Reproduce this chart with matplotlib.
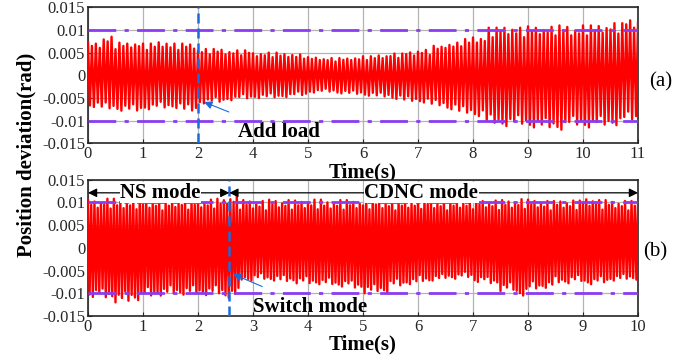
import numpy as np
import matplotlib.pyplot as plt

plt.rcParams['font.family'] = ['Liberation Serif', 'DejaVu Serif']

# peak envelope of the position deviation, one value per 0.25 axis unit
seg = 0.25
a_upper = [0.0072, 0.0085, 0.0072, 0.0073, 0.0070, 0.0075, 0.0070, 0.0070,
           0.0058, 0.0058, 0.0055, 0.0055, 0.0050, 0.0050, 0.0048, 0.0046,
           0.0040, 0.0038, 0.0038, 0.0040, 0.0042, 0.0045, 0.0048, 0.0052,
           0.0056, 0.0065, 0.0072, 0.0080, 0.0086, 0.0105, 0.0108, 0.0105,
           0.0108, 0.0107, 0.0110, 0.0105, 0.0110, 0.0112, 0.0115, 0.0125]
a_lower = [-0.0070, -0.0075, -0.0078, -0.0080, -0.0075, -0.0073, -0.0072, -0.0080,
           -0.0062, -0.0060, -0.0055, -0.0052, -0.0050, -0.0050, -0.0048, -0.0045,
           -0.0038, -0.0037, -0.0040, -0.0042, -0.0045, -0.0048, -0.0052, -0.0058,
           -0.0060, -0.0068, -0.0075, -0.0085, -0.0090, -0.0108, -0.0112, -0.0110,
           -0.0115, -0.0118, -0.0120, -0.0112, -0.0115, -0.0112, -0.0110, -0.0100]
b_upper = [0.0105, 0.0108, 0.0104, 0.0106, 0.0105, 0.0103, 0.0107, 0.0105, 0.0106, 0.0108,
           0.0115, 0.0105, 0.0103, 0.0106, 0.0105, 0.0104, 0.0106, 0.0103, 0.0105, 0.0104,
           0.0106, 0.0104, 0.0103, 0.0105, 0.0107, 0.0104, 0.0103, 0.0105, 0.0106, 0.0104,
           0.0105, 0.0107, 0.0106, 0.0103, 0.0105, 0.0104, 0.0110, 0.0105, 0.0104, 0.0103]
b_lower = [-0.0108, -0.0112, -0.0120, -0.0115, -0.0108, -0.0105, -0.0103, -0.0103, -0.0104, -0.0103,
           -0.0110, -0.0072, -0.0070, -0.0072, -0.0075, -0.0078, -0.0080, -0.0082, -0.0085, -0.0090,
           -0.0100, -0.0098, -0.0085, -0.0080, -0.0075, -0.0072, -0.0068, -0.0066, -0.0075, -0.0080,
           -0.0095, -0.0105, -0.0092, -0.0088, -0.0078, -0.0075, -0.0080, -0.0078, -0.0072, -0.0070]
cycles_a = 14
cycles_b = 17
# relative height of successive peaks (uneven spikes)
peak_up = [1.0, 0.9, 0.97, 0.84, 0.93, 0.88, 1.0, 0.8]
peak_lo = [0.95, 1.0, 0.86, 0.92, 0.8, 0.97, 0.9]

a_ticklabels = ['0', '1', '2', '4', '5', '6', '7', '8', '9', '10', '11']
b_ticklabels = ['0', '1', '2', '3', '4', '5', '6', '7', '8', '9', '10']
y_ticks = [-0.015, -0.01, -0.005, 0, 0.005, 0.01, 0.015]
y_ticklabels = ['-0.015', '-0.01', '-0.005', '0', '0.005', '0.01', '0.015']
load_at = 2.0
switch_at = 2.57


def zigzag(upper, lower, cycles):
    upper = np.array(upper)
    lower = np.array(lower)
    n = int(len(upper) * seg * cycles * 2)
    k = np.arange(n + 1)
    t = k / (2.0 * cycles)
    idx = np.minimum((t / seg).astype(int), len(upper) - 1)
    pu = np.array(peak_up)[(k // 2) % len(peak_up)]
    pl = np.array(peak_lo)[(k // 2) % len(peak_lo)]
    y = np.where(k % 2 == 0, upper[idx] * pu, lower[idx] * pl)
    return t, y


fig = plt.figure(figsize=(6.95, 3.57), dpi=100)
ax1 = fig.add_axes([0.1266, 0.5986, 0.7914, 0.381])
ax2 = fig.add_axes([0.1266, 0.1148, 0.7914, 0.382])

purple = '#8c3cf0'
blue = '#1a6be0'

for ax, up, lo, cyc, labels, vline in [(ax1, a_upper, a_lower, cycles_a, a_ticklabels, load_at),
                                       (ax2, b_upper, b_lower, cycles_b, b_ticklabels, switch_at)]:
    t, y = zigzag(up, lo, cyc)
    ax.plot(t, y, color='#ff0000', lw=1.7, zorder=3)
    for lvl in (0.01, -0.01):
        ax.axhline(lvl, color=purple, lw=2, dashes=(10, 3, 1.5, 3), zorder=4)
    ax.axvline(vline, color=blue, lw=1.8, dashes=(4, 2), zorder=5)
    ax.set_xlim(0, 10)
    ax.set_ylim(-0.015, 0.015)
    ax.set_xticks(range(11))
    ax.set_xticklabels(labels)
    ax.set_yticks(y_ticks)
    ax.set_yticklabels(y_ticklabels)
    ax.grid(True, color='#b4b4b4', lw=0.9)
    ax.set_axisbelow(True)
    ax.tick_params(direction='in', length=3, labelsize=12, pad=2, colors='#262626')
    for sp in ax.spines.values():
        sp.set_color('#262626')
        sp.set_linewidth(1.2)
    ax.set_xlabel('Time(s)', fontsize=15, fontweight='bold', labelpad=0)

# annotations, top panel
ax1.annotate('Add load', xy=(2.11, -0.0059), xytext=(3.47, -0.0125),
             fontsize=15, fontweight='bold', ha='center', va='center',
             arrowprops=dict(arrowstyle='-|>', color=blue, lw=0.8, mutation_scale=12,
                             shrinkA=14, shrinkB=0))
fig.text(0.951, 0.77, '(a)', fontsize=15, ha='center', va='center')

# annotations, bottom panel
ax2.annotate('Switch mode', xy=(2.64, -0.0058), xytext=(4.04, -0.0130),
             fontsize=15, fontweight='bold', ha='center', va='center',
             arrowprops=dict(arrowstyle='-|>', color=blue, lw=0.8, mutation_scale=12,
                             shrinkA=14, shrinkB=0))
ax2.annotate('', xy=(0, 0.0121), xytext=(switch_at, 0.0121),
             arrowprops=dict(arrowstyle='<|-|>', color='black', lw=0.9, mutation_scale=13,
                             shrinkA=0, shrinkB=0), zorder=6)
ax2.annotate('', xy=(switch_at, 0.0121), xytext=(10, 0.0121),
             arrowprops=dict(arrowstyle='<|-|>', color='black', lw=0.9, mutation_scale=13,
                             shrinkA=0, shrinkB=0), zorder=6)
ax2.text(1.32, 0.0121, 'NS mode', fontsize=15, fontweight='bold', ha='center', va='center',
         bbox=dict(facecolor='white', edgecolor='none', pad=0.5), zorder=7)
ax2.text(6.06, 0.0121, 'CDNC mode', fontsize=15, fontweight='bold', ha='center', va='center',
         bbox=dict(facecolor='white', edgecolor='none', pad=0.5), zorder=7)
fig.text(0.943, 0.294, '(b)', fontsize=15, ha='center', va='center')

fig.text(0.038, 0.565, 'Position deviation(rad)', rotation=90, fontsize=15,
         fontweight='bold', ha='center', va='center')

fig.savefig('out.png', dpi=100)
